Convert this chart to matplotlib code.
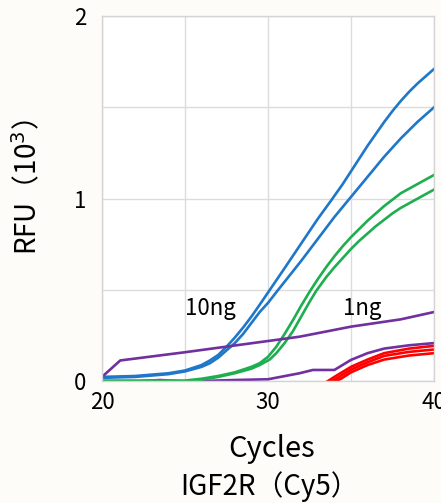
import matplotlib.pyplot as plt

plt.rcParams['font.family'] = ['Noto Sans CJK JP', 'DejaVu Sans']

# 10ng (blue)
blue1_x = [20, 22, 24, 25, 26, 26.5, 27, 27.5, 28, 28.5, 29, 29.5, 30.1, 31, 32, 33, 33.8,
           34.5, 35, 35.5, 36, 36.5, 37, 37.5, 38, 38.5, 39, 39.5, 40]
blue1_y = [0.025, 0.03, 0.045, 0.06, 0.09, 0.115, 0.145, 0.19, 0.24, 0.295, 0.355, 0.42, 0.50, 0.62, 0.755, 0.89, 0.99,
           1.08, 1.15, 1.22, 1.29, 1.355, 1.42, 1.48, 1.535, 1.585, 1.63, 1.67, 1.71]
blue2_x = [20, 22, 24, 25, 26, 26.5, 27, 27.5, 28, 28.5, 29, 29.5, 30, 30.6, 32, 33, 34, 35,
           35.5, 36, 36.5, 37, 37.5, 38, 38.5, 39, 39.5, 40]
blue2_y = [0.02, 0.025, 0.04, 0.055, 0.08, 0.10, 0.13, 0.17, 0.21, 0.26, 0.32, 0.38, 0.43, 0.50, 0.66, 0.78, 0.90, 1.01,
           1.065, 1.12, 1.175, 1.23, 1.28, 1.33, 1.375, 1.42, 1.46, 1.50]

# 1ng (green)
green1_x = [20, 25, 26, 27, 28, 29, 29.5, 30, 30.5, 31, 31.5, 32, 32.5, 33, 33.5, 34, 34.5, 35,
            35.5, 36, 36.5, 37, 37.5, 38, 38.5, 39, 39.5, 40]
green1_y = [0.005, 0.005, 0.015, 0.03, 0.05, 0.08, 0.10, 0.135, 0.19, 0.26, 0.335, 0.415, 0.49, 0.56, 0.625, 0.685, 0.74, 0.79,
            0.835, 0.88, 0.92, 0.96, 0.995, 1.03, 1.055, 1.08, 1.105, 1.13]
green2_x = [20, 25, 26, 27, 28, 29, 29.5, 30.1, 30.5, 31, 31.5, 32, 32.5, 32.9, 33.5, 34, 34.5, 35,
            35.5, 36, 36.5, 37, 37.5, 38, 38.5, 39, 39.5, 40]
green2_y = [0.0, 0.0, 0.01, 0.025, 0.045, 0.07, 0.09, 0.12, 0.155, 0.21, 0.275, 0.355, 0.435, 0.495, 0.57, 0.625, 0.675, 0.725,
            0.77, 0.81, 0.85, 0.885, 0.92, 0.95, 0.975, 1.0, 1.025, 1.05]

# purple
purple1_x = [20, 21.1, 25, 30.7, 31.9, 35, 38, 40]
purple1_y = [0.025, 0.115, 0.16, 0.23, 0.245, 0.30, 0.34, 0.38]
purple2_x = [20, 22, 23.5, 25, 28, 30, 31.9, 32.7, 34.0, 35, 36, 37, 38.5, 40]
purple2_y = [0.0, 0.0, 0.008, 0.0, 0.008, 0.012, 0.045, 0.063, 0.063, 0.118, 0.155, 0.18, 0.198, 0.21]

# red
red1_x = [33.4, 34, 35, 36, 37, 38.5, 40]
red1_y = [-0.01, 0.025, 0.08, 0.12, 0.155, 0.18, 0.195]
red2_x = [33.6, 34.2, 35, 36, 37, 38.5, 40]
red2_y = [-0.01, 0.02, 0.065, 0.105, 0.14, 0.162, 0.175]
red3_x = [33.8, 34.4, 35, 36, 37, 38.5, 40]
red3_y = [-0.01, 0.015, 0.05, 0.09, 0.12, 0.142, 0.155]

fig = plt.figure(figsize=(4.41, 5.03), dpi=100, facecolor='#fdfcf9')
ax = fig.add_axes([0.2313, 0.2416, 0.7528, 0.7266])

lw = 1.9
ax.plot(purple2_x, purple2_y, color='#7030a0', lw=lw)
ax.plot(red3_x, red3_y, color='#ff0000', lw=lw)
ax.plot(red2_x, red2_y, color='#ff0000', lw=lw)
ax.plot(red1_x, red1_y, color='#ff0000', lw=lw)
ax.plot(green2_x, green2_y, color='#1fae4f', lw=lw)
ax.plot(green1_x, green1_y, color='#1fae4f', lw=lw)
ax.plot(blue2_x, blue2_y, color='#1f77c9', lw=lw)
ax.plot(blue1_x, blue1_y, color='#1f77c9', lw=lw)
ax.plot(purple1_x, purple1_y, color='#7030a0', lw=lw)

ax.text(26.5, 0.40, '10ng', fontsize=16, ha='center', va='center')
ax.text(35.7, 0.40, '1ng', fontsize=16, ha='center', va='center')

ax.set_xlim(20, 40)
ax.set_ylim(0, 2)
ax.set_xticks([20, 30, 40])
ax.set_xticks([25, 35], minor=True)
ax.set_yticks([0, 1, 2])
ax.set_yticks([0.5, 1.5], minor=True)
ax.grid(True, which='both', color='#dcdcdc', lw=1)
ax.set_axisbelow(True)
ax.tick_params(which='both', length=0, labelsize=16)
ax.tick_params(axis='x', pad=7)
ax.tick_params(axis='y', pad=11)
for s in ax.spines.values():
    s.set_color('#d4d4d4')
    s.set_linewidth(1)

ax.set_xlabel('Cycles', fontsize=21)
ax.xaxis.set_label_coords(0.512, -0.145)
ax.set_ylabel('RFU（10$^3$）', fontsize=20)
ax.yaxis.set_label_coords(-0.175, 0.532)
fig.text(0.612, 0.032, 'IGF2R（Cy5）', fontsize=20, ha='center', va='center')

fig.savefig('out.png', dpi=100, facecolor=fig.get_facecolor())
